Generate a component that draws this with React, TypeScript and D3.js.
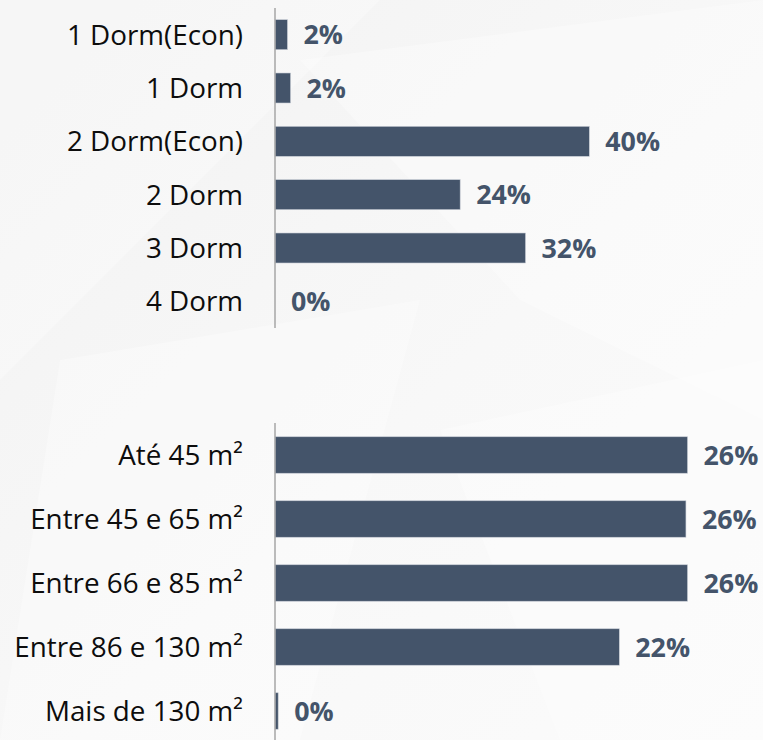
import React, { useEffect, useRef } from 'react'
import * as d3 from 'd3'

const dormCategories = ['1 Dorm(Econ)', '1 Dorm', '2 Dorm(Econ)', '2 Dorm', '3 Dorm', '4 Dorm']
const dormValues = [1.6, 2.0, 40.4, 23.8, 32.2, 0]

const areaCategories = ['Até 45 m²', 'Entre 45 e 65 m²', 'Entre 66 e 85 m²', 'Entre 86 e 130 m²', 'Mais de 130 m²']
const areaValues = [26.0, 25.9, 26.0, 21.7, 0.2]

const barColor = '#44546a'
const fontFamily = '"Open Sans", Lato, sans-serif'

export default function App() {
  const svgRef = useRef<SVGSVGElement>(null)

  useEffect(() => {
    const svg = d3.select(svgRef.current)
    svg.selectAll('*').remove()

    const width = 763
    const height = 740

    // soft background
    const defs = svg.append('defs')
    const grad = defs
      .append('linearGradient')
      .attr('id', 'bg')
      .attr('x1', '0')
      .attr('y1', '0')
      .attr('x2', '1')
      .attr('y2', '1')
    grad.append('stop').attr('offset', '0%').attr('stop-color', '#f2f2f2')
    grad.append('stop').attr('offset', '55%').attr('stop-color', '#f8f8f8')
    grad.append('stop').attr('offset', '100%').attr('stop-color', '#fbfbfb')
    svg.append('rect').attr('width', width).attr('height', height).attr('fill', 'url(#bg)')
    const shapes = [
      [[0, 0], [380, 0], [0, 380]],
      [[300, 60], [763, 0], [763, 420], [520, 300]],
      [[60, 360], [420, 300], [300, 740], [0, 740]],
      [[440, 430], [763, 360], [763, 740], [560, 740]],
    ]
    svg
      .append('g')
      .selectAll('polygon')
      .data(shapes)
      .enter()
      .append('polygon')
      .attr('points', (d) => d.map((p) => p.join(',')).join(' '))
      .attr('fill', '#ffffff')
      .attr('opacity', 0.3)

    const axisX = 275

    function drawChart(
      categories: string[],
      values: number[],
      yRange: [number, number],
      xMax: number,
      xWidth: number,
      padding: number
    ) {
      const g = svg.append('g')
      const y = d3
        .scaleBand<string>()
        .domain(categories)
        .range(yRange)
        .paddingInner(padding)
        .paddingOuter(padding / 2)
      const x = d3.scaleLinear().domain([0, xMax]).range([axisX, axisX + xWidth])

      g.selectAll('rect.bar')
        .data(values)
        .enter()
        .append('rect')
        .attr('class', 'bar')
        .attr('x', x(0))
        .attr('y', (d, i) => y(categories[i])!)
        .attr('width', (d) => x(d) - x(0))
        .attr('height', y.bandwidth())
        .attr('fill', barColor)
        .attr('stroke', '#c9ced6')
        .attr('stroke-width', 0.6)

      g.append('line')
        .attr('x1', axisX)
        .attr('x2', axisX)
        .attr('y1', yRange[0])
        .attr('y2', yRange[1])
        .attr('stroke', '#a6a6a6')
        .attr('stroke-width', 1.5)

      g.selectAll('text.cat')
        .data(categories)
        .enter()
        .append('text')
        .attr('class', 'cat')
        .attr('x', 243)
        .attr('y', (d) => y(d)! + y.bandwidth() / 2)
        .attr('dy', '0.36em')
        .attr('text-anchor', 'end')
        .attr('font-family', fontFamily)
        .attr('font-size', 27.8)
        .attr('fill', '#0d0d0d')
        .text((d) => d)

      g.selectAll('text.val')
        .data(values)
        .enter()
        .append('text')
        .attr('class', 'val')
        .attr('x', (d) => x(d) + 16)
        .attr('y', (d, i) => y(categories[i])! + y.bandwidth() / 2)
        .attr('dy', '0.36em')
        .attr('font-family', fontFamily)
        .attr('font-weight', 'bold')
        .attr('font-size', 26.8)
        .attr('fill', barColor)
        .text((d) => `${Math.round(d)}%`)
    }

    drawChart(dormCategories, dormValues, [8, 328], 50, 389, 0.4375)
    drawChart(areaCategories, areaValues, [423, 743], 30, 476, 0.43)
  }, [])

  return (
    <>
      <style>{`body{margin:0}`}</style>
      <svg ref={svgRef} width={763} height={740} style={{ display: 'block' }}></svg>
    </>
  )
}
